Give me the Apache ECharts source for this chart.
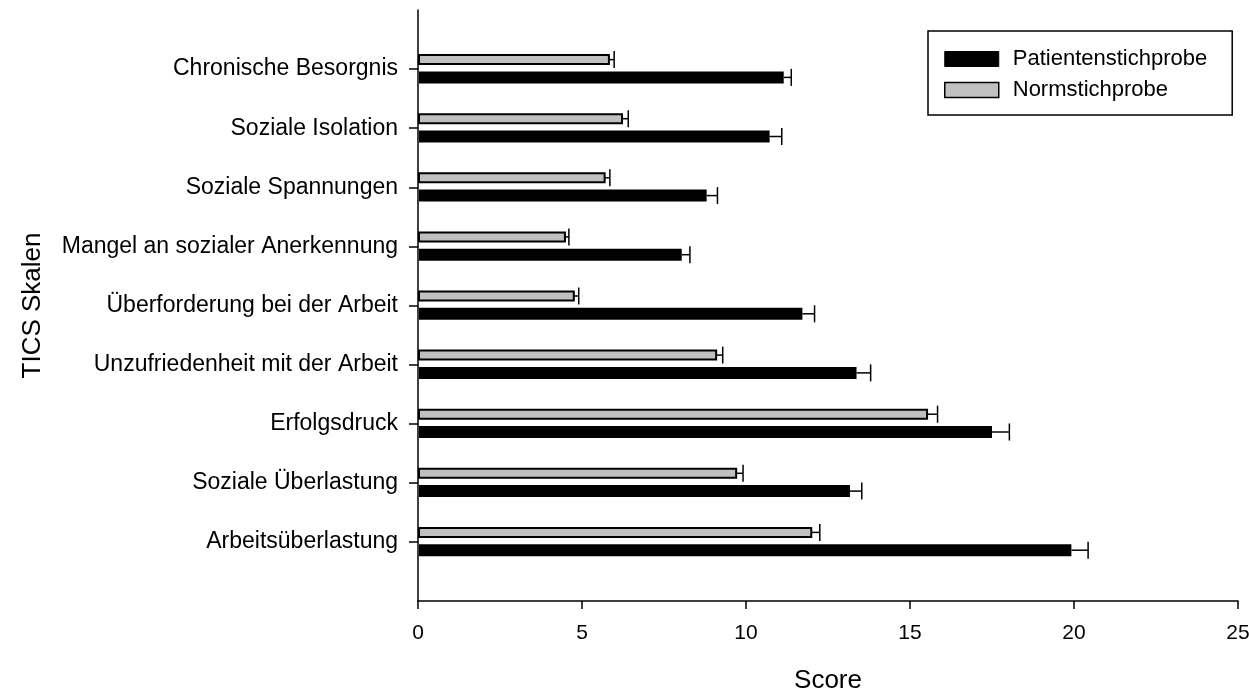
<!DOCTYPE html>
<html>
<head>
<meta charset="utf-8">
<script src="https://cdn.jsdelivr.net/npm/echarts@6/dist/echarts.min.js"></script>
<style>
  html, body { margin: 0; padding: 0; background: #fff; }
  #chart { width: 1249px; height: 695px; }
</style>
</head>
<body>
<div id="chart"></div>
<script>
// TICS scales, listed from the bottom of the axis upwards
const categories = [
  'Arbeitsüberlastung',
  'Soziale Überlastung',
  'Erfolgsdruck',
  'Unzufriedenheit mit der Arbeit',
  'Überforderung bei der Arbeit',
  'Mangel an sozialer Anerkennung',
  'Soziale Spannungen',
  'Soziale Isolation',
  'Chronische Besorgnis'
];
const seriesNames = ['Patientenstichprobe', 'Normstichprobe'];

// mean scores and standard errors
const patientMean = [19.92, 13.17, 17.50, 13.37, 11.72, 8.04, 8.80, 10.72, 11.15];
const patientErr  = [0.51, 0.36, 0.53, 0.43, 0.37, 0.25, 0.33, 0.37, 0.23];
const normMean    = [11.99, 9.70, 15.52, 9.09, 4.75, 4.48, 5.69, 6.22, 5.82];
const normErr     = [0.26, 0.21, 0.32, 0.20, 0.15, 0.12, 0.16, 0.19, 0.16];

const xTicks = [0, 5, 10, 15, 20, 25];

const FONT = '"Liberation Sans", Arial, Helvetica, sans-serif';
const positions = categories.map((_, i) => i + 1);

// bar with a one-sided error bar; offsets place the pair around the category tick
function makeRenderer(top, bottom, fill, stroke) {
  return function (params, api) {
    const v = api.value(0), pos = api.value(1), err = api.value(2);
    const base = api.coord([0, pos]);
    const end = api.coord([v, pos]);
    const errEnd = api.coord([v + err, pos]);
    const y0 = base[1] + top, y1 = base[1] + bottom;
    const yc = (y0 + y1) / 2;
    const children = [
      {
        type: 'rect',
        shape: { x: base[0] + 1, y: y0, width: end[0] - base[0] - 1, height: y1 - y0 },
        style: { fill: fill, stroke: stroke, lineWidth: stroke ? 2 : 0 }
      },
      {
        type: 'line',
        shape: { x1: end[0], y1: yc, x2: errEnd[0], y2: yc },
        style: { stroke: '#000', lineWidth: 1.5 }
      },
      {
        type: 'line',
        shape: { x1: errEnd[0], y1: yc - 8.5, x2: errEnd[0], y2: yc + 8.5 },
        style: { stroke: '#000', lineWidth: 1.5 }
      }
    ];
    return { type: 'group', children: children };
  };
}

const chart = echarts.init(document.getElementById('chart'), null, { renderer: 'canvas' });

chart.setOption({
  animation: false,
  backgroundColor: '#fff',
  textStyle: { fontFamily: FONT, color: '#000' },
  grid: { left: 418, right: 11, top: 10, bottom: 94, containLabel: false, outerBoundsMode: 'none' },
  legend: {
    orient: 'vertical',
    left: 928,
    top: 31,
    width: 304,
    padding: [17, 25, 14, 16],
    itemGap: 9,
    itemWidth: 54,
    itemHeight: 15,
    icon: 'rect',
    borderColor: '#000',
    borderWidth: 1.5,
    textStyle: { fontFamily: FONT, fontSize: 22, color: '#000', padding: [0, 0, 0, 9] },
    data: [
      { name: seriesNames[0], itemStyle: { color: '#000', borderColor: '#000', borderWidth: 1 } },
      { name: seriesNames[1], itemStyle: { color: '#c0c0c0', borderColor: '#000', borderWidth: 1.5 } }
    ]
  },
  xAxis: {
    type: 'value',
    min: xTicks[0],
    max: xTicks[xTicks.length - 1],
    interval: 5,
    name: 'Score',
    nameLocation: 'middle',
    nameGap: 67,
    nameTextStyle: { fontFamily: FONT, fontSize: 26, color: '#000' },
    axisLine: { show: true, lineStyle: { color: '#000', width: 1.5 } },
    axisTick: { show: true, inside: false, length: 8, lineStyle: { color: '#000', width: 1.5 } },
    axisLabel: { fontFamily: FONT, fontSize: 21, color: '#000', margin: 22 },
    splitLine: { show: false }
  },
  yAxis: {
    type: 'value',
    min: 0,
    max: 10,
    interval: 1,
    name: 'TICS Skalen',
    nameLocation: 'middle',
    nameGap: 372,
    nameRotate: 90,
    nameTextStyle: { fontFamily: FONT, fontSize: 26, color: '#000' },
    axisLine: { show: true, onZero: false, lineStyle: { color: '#000', width: 1.5 } },
    axisTick: { show: true, inside: false, length: 9, customValues: positions, lineStyle: { color: '#000', width: 1.5 } },
    axisLabel: {
      fontFamily: FONT, fontSize: 23, color: '#000', margin: 20,
      customValues: positions,
      formatter: (v) => categories[Math.round(v) - 1] || ''
    },
    splitLine: { show: false }
  },
  series: [
    {
      name: seriesNames[0],
      type: 'custom',
      itemStyle: { color: '#000' },
      renderItem: makeRenderer(2.3, 14.3, '#000', null),
      encode: { x: 0, y: 1 },
      data: patientMean.map((v, i) => [v, positions[i], patientErr[i]])
    },
    {
      name: seriesNames[1],
      type: 'custom',
      itemStyle: { color: '#c0c0c0', borderColor: '#000' },
      renderItem: makeRenderer(-14, -5, '#c0c0c0', '#000'),
      encode: { x: 0, y: 1 },
      data: normMean.map((v, i) => [v, positions[i], normErr[i]])
    }
  ]
});
</script>
</body>
</html>
